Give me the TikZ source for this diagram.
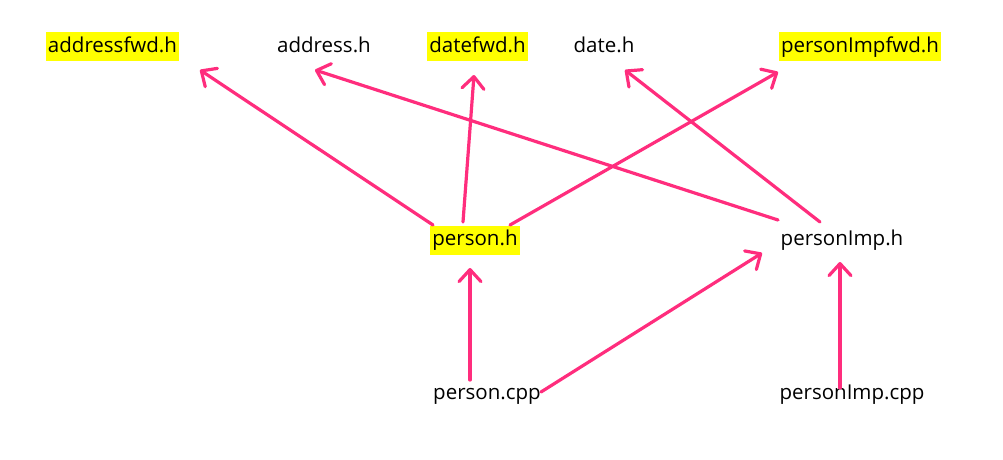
\documentclass[tikz,border=0pt]{standalone}
\usepackage{fontspec}
\setmainfont{Open Sans}
\usetikzlibrary{arrows.meta,calc}
\definecolor{pinkarr}{HTML}{FF2D7D}
\definecolor{hl}{HTML}{FFFF00}
\tikzset{
  lbl/.style={font=\fontsize{20.5}{24}\selectfont, inner xsep=2pt, inner ysep=3pt, text height=17pt, text depth=6pt},
  hlbl/.style={lbl, fill=hl},
  arr/.style={draw=pinkarr, line width=3.2pt, line cap=round,
    -{Straight Barb[length=12pt,width=22pt,line width=3.2pt,round]}}
}
\begin{document}
\begin{tikzpicture}[x=1pt,y=-1pt]
\useasboundingbox (0,0) rectangle (1003,460);
\node[hlbl] (afwd) at (112.5,47) {addressfwd.h};
\node[lbl] (addr) at (324,47) {address.h};
\node[hlbl] (dfwd) at (477.5,47) {datefwd.h};
\node[lbl] (date) at (604,47) {date.h};
\node[hlbl] (pifwd) at (860,47) {personImpfwd.h};
\node[hlbl] (ph) at (475,240) {person.h};
\node[lbl] (pih) at (842,240) {personImp.h};
\node[lbl] (pcpp) at (487,394) {person.cpp};
\node[lbl] (picpp) at (852,394) {personImp.cpp};

\draw[arr] ($(ph)+(-42,-15)$) -- ($(afwd)+(87.5,23)$);
\draw[arr] ($(ph)+(-12,-18)$) -- ($(dfwd)+(-3.5,28)$);
\draw[arr] ($(ph)+(35,-15)$) -- ($(pifwd)+(-82,25)$);
\draw[arr] ($(pih)+(-64,-20)$) -- ($(addr)+(-9,23)$);
\draw[arr] ($(pih)+(-22,-18)$) -- ($(date)+(21,23)$);
\draw[arr] ($(pcpp)+(-17,-14)$) -- ($(ph)+(-5,28)$);
\draw[arr] ($(pcpp)+(54,-2)$) -- ($(pih)+(-80,13)$);
\draw[arr] ($(picpp)+(-12,-6)$) -- ($(pih)+(-2,22)$);
\end{tikzpicture}
\end{document}
